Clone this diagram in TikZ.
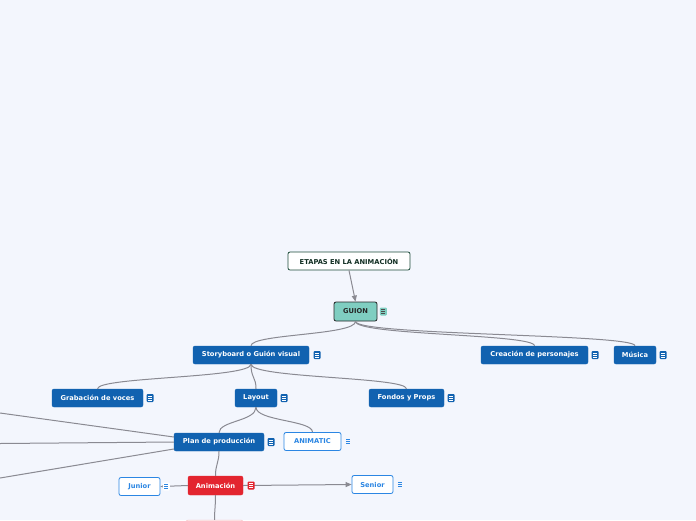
\documentclass[tikz,border=0pt]{standalone}
\usepackage{fontspec}
\setmainfont{DejaVu Sans}
\usetikzlibrary{arrows.meta}
\definecolor{bg}{HTML}{F3F6FD}
\definecolor{mblue}{HTML}{1162B0}
\definecolor{lblue}{HTML}{2B86E3}
\definecolor{guiteal}{HTML}{7FCEC1}
\definecolor{mred}{HTML}{E3252F}
\definecolor{conn}{HTML}{8A8A92}
\definecolor{dgreen}{HTML}{1D4C3A}
\tikzset{
  box/.style={rounded corners=2pt, minimum height=18pt, inner sep=0pt,
    font=\bfseries\fontsize{6.7}{8}\selectfont, align=center},
  bluebox/.style={box, fill=mblue, draw=mblue, text=white},
  outbox/.style={box, fill=white, draw=lblue, line width=0.8pt, text=lblue},
  redbox/.style={box, fill=mred, draw=mred, text=white},
  link/.style={draw=conn, line width=1pt},
  tip/.style={-{Triangle[length=6pt,width=5pt]}},
  pics/note/.style 2 args={code={
    \fill[#1, rounded corners=1pt] (-3.5,-4) rectangle (3.5,4);
    \foreach \yy in {-2,0,2} \draw[#2, line width=0.7pt] (-2,\yy) -- (2,\yy);
  }}
}
\begin{document}
\begin{tikzpicture}[x=1pt,y=-1pt]
\fill[bg] (0,0) rectangle (696,520);
\useasboundingbox (0,0) rectangle (696,520);

% nodes
\node[box, fill=white, draw=dgreen, line width=0.8pt, text=dgreen!60!black, minimum width=122pt] (et) at (349,261) {ETAPAS EN LA ANIMACIÓN};
\node[box, fill=guiteal, draw=black!85, line width=0.8pt, text=black!85, minimum width=43pt, minimum height=19pt] (gu) at (355.5,311.5) {GUION};
\node[bluebox, minimum width=116pt] (sb) at (251,355) {Storyboard o Guión visual};
\node[bluebox, minimum width=107pt] (cp) at (534.5,355) {Creación de personajes};
\node[bluebox, minimum width=42pt] (mu) at (635,355) {Música};
\node[bluebox, minimum width=91pt] (gv) at (97.5,398) {Grabación de voces};
\node[bluebox, minimum width=42pt] (la) at (256,398) {Layout};
\node[bluebox, minimum width=75pt] (fp) at (406.5,398) {Fondos y Props};
\node[bluebox, minimum width=90pt] (pp) at (219,442) {Plan de producción};
\node[outbox, minimum width=57pt] (an) at (312.5,441.5) {ANIMATIC};
\node[redbox, minimum width=55pt, minimum height=19pt] (am) at (215.5,485.5) {Animación};
\node[outbox, minimum width=41pt] (ju) at (139.5,486.5) {Junior};
\node[outbox, minimum width=41pt] (se) at (372.5,484.5) {Senior};
\node[box, fill=mred!12, draw=mred!30, minimum width=57pt] (nx) at (214.5,529) {};

\coordinate (L1) at (0,413);
\coordinate (L2) at (0,443.5);
\coordinate (L3) at (0,478);

% connectors
\draw[link, tip] (et.south) -- (gu.north);
\draw[link] (gu.south) .. controls +(0,14) and +(0,-12) .. (sb.north);
\draw[link] (gu.south) .. controls +(0,14) and +(0,-12) .. (cp.north);
\draw[link] (gu.south) .. controls +(0,14) and +(0,-12) .. (mu.north);
\draw[link] (sb.south) .. controls +(0,14) and +(0,-12) .. (gv.north);
\draw[link] (sb.south) .. controls +(0,14) and +(0,-12) .. (la.north);
\draw[link] (sb.south) .. controls +(0,14) and +(0,-12) .. (fp.north);
\draw[link] (la.south) .. controls +(0,14) and +(0,-12) .. (pp.north);
\draw[link] (la.south) .. controls +(0,14) and +(0,-12) .. (an.north);
\draw[link] ([yshift=5pt]pp.west) -- (L1);
\draw[link] (pp.west) -- (L2);
\draw[link] ([yshift=-7pt]pp.west) -- (L3);
\draw[link] (pp.south) .. controls +(0,12) and +(0,-12) .. (am.north);
\draw[link] (am.south) .. controls +(0,12) and +(0,-10) .. (nx.north);
\draw[link, tip] (am.west) -- (ju.east);
\draw[link, tip] (am.east) -- (se.west);

% note icons
\pic at ([xshift=6pt]gu.east) {note={guiteal}{black!70}};
\pic at ([xshift=8pt]sb.east) {note={mblue}{white}};
\pic at ([xshift=7pt]cp.east) {note={mblue}{white}};
\pic at ([xshift=7pt]mu.east) {note={mblue}{white}};
\pic at ([xshift=7pt]gv.east) {note={mblue}{white}};
\pic at ([xshift=7pt]la.east) {note={mblue}{white}};
\pic at ([xshift=7pt]fp.east) {note={mblue}{white}};
\pic at ([xshift=7pt]pp.east) {note={mblue}{white}};
\pic at ([xshift=7pt]an.east) {note={bg}{lblue}};
\pic at ([xshift=8pt]am.east) {note={mred}{white}};
\pic at ([xshift=6pt]ju.east) {note={white}{lblue}};
\pic at ([xshift=7pt]se.east) {note={bg}{lblue}};
\end{tikzpicture}
\end{document}
